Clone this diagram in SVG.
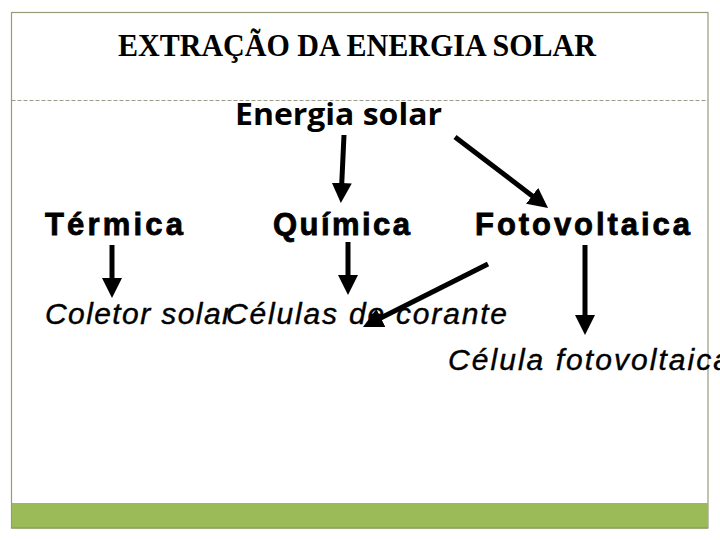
<svg xmlns="http://www.w3.org/2000/svg" width="720" height="540" viewBox="0 0 720 540">
<style>
.frame{fill:#ffffff;stroke:#959c7c;stroke-width:1.2}
.title{font-family:"Liberation Serif","Times New Roman",serif;font-weight:bold;font-size:31px;fill:#000}
.head{font-family:"Open Sans","Liberation Sans",sans-serif;font-weight:bold;font-size:30px;fill:#000}
.cat{font-family:"Liberation Sans",Arial,sans-serif;font-weight:bold;font-size:31px;fill:#000;stroke:#000;stroke-width:0.8}
.leaf{font-family:"Liberation Sans",Arial,sans-serif;font-style:italic;font-size:30px;fill:#000;stroke:#000;stroke-width:0.4}
.arrow{stroke:#000;stroke-width:5;fill:none;marker-end:url(#ah)}
</style>
<defs>
<marker id="ah" markerUnits="userSpaceOnUse" viewBox="0 0 20 20" markerWidth="20" markerHeight="20" refX="8" refY="10" orient="auto">
<path d="M0,0 L20,10 L0,20 z" fill="#000"/>
</marker>
</defs>
<rect x="0" y="0" width="720" height="540" fill="#ffffff"/>
<rect class="frame" x="11.5" y="12.5" width="696.5" height="515.5"/>
<line x1="11.5" y1="100.5" x2="708" y2="100.5" stroke="#999a88" stroke-width="1" stroke-dasharray="4,2"/>
<rect x="12" y="503" width="696" height="25" fill="#9bbb59"/>
<line x1="11.5" y1="528" x2="708" y2="528" stroke="#7f9a4a" stroke-width="1.2"/>
<g id="title"><text class="title" x="118" y="56" textLength="478" lengthAdjust="spacingAndGlyphs">EXTRAÇÃO DA ENERGIA SOLAR</text></g>
<g id="energia-solar"><text class="head" x="235" y="125" textLength="207" lengthAdjust="spacingAndGlyphs">Energia solar</text></g>
<g id="termica"><text class="cat" x="45" y="235" textLength="138" lengthAdjust="spacing">Térmica</text></g>
<g id="quimica"><text class="cat" x="273" y="235" textLength="137" lengthAdjust="spacing">Química</text></g>
<g id="fotovoltaica"><text class="cat" x="475" y="235" textLength="215" lengthAdjust="spacing">Fotovoltaica</text></g>
<g id="coletor-solar"><text class="leaf" x="45" y="324" textLength="187" lengthAdjust="spacing">Coletor solar</text></g>
<g id="celulas-de-corante"><text class="leaf" x="226" y="324" textLength="281" lengthAdjust="spacing">Células de corante</text></g>
<g id="celula-fotovoltaica"><text class="leaf" x="448" y="370" textLength="282" lengthAdjust="spacing">Célula fotovoltaica</text></g>
<g id="connectors">
<line class="arrow" x1="344" y1="135" x2="341.4" y2="191"/>
<line class="arrow" x1="455" y1="137" x2="538.5" y2="200.7"/>
<line class="arrow" x1="112" y1="245" x2="112" y2="286"/>
<line class="arrow" x1="348" y1="242" x2="348" y2="283"/>
<line class="arrow" x1="488" y1="264" x2="373.7" y2="321.6"/>
<line class="arrow" x1="585" y1="245" x2="585" y2="323"/>
</g>
</svg>
